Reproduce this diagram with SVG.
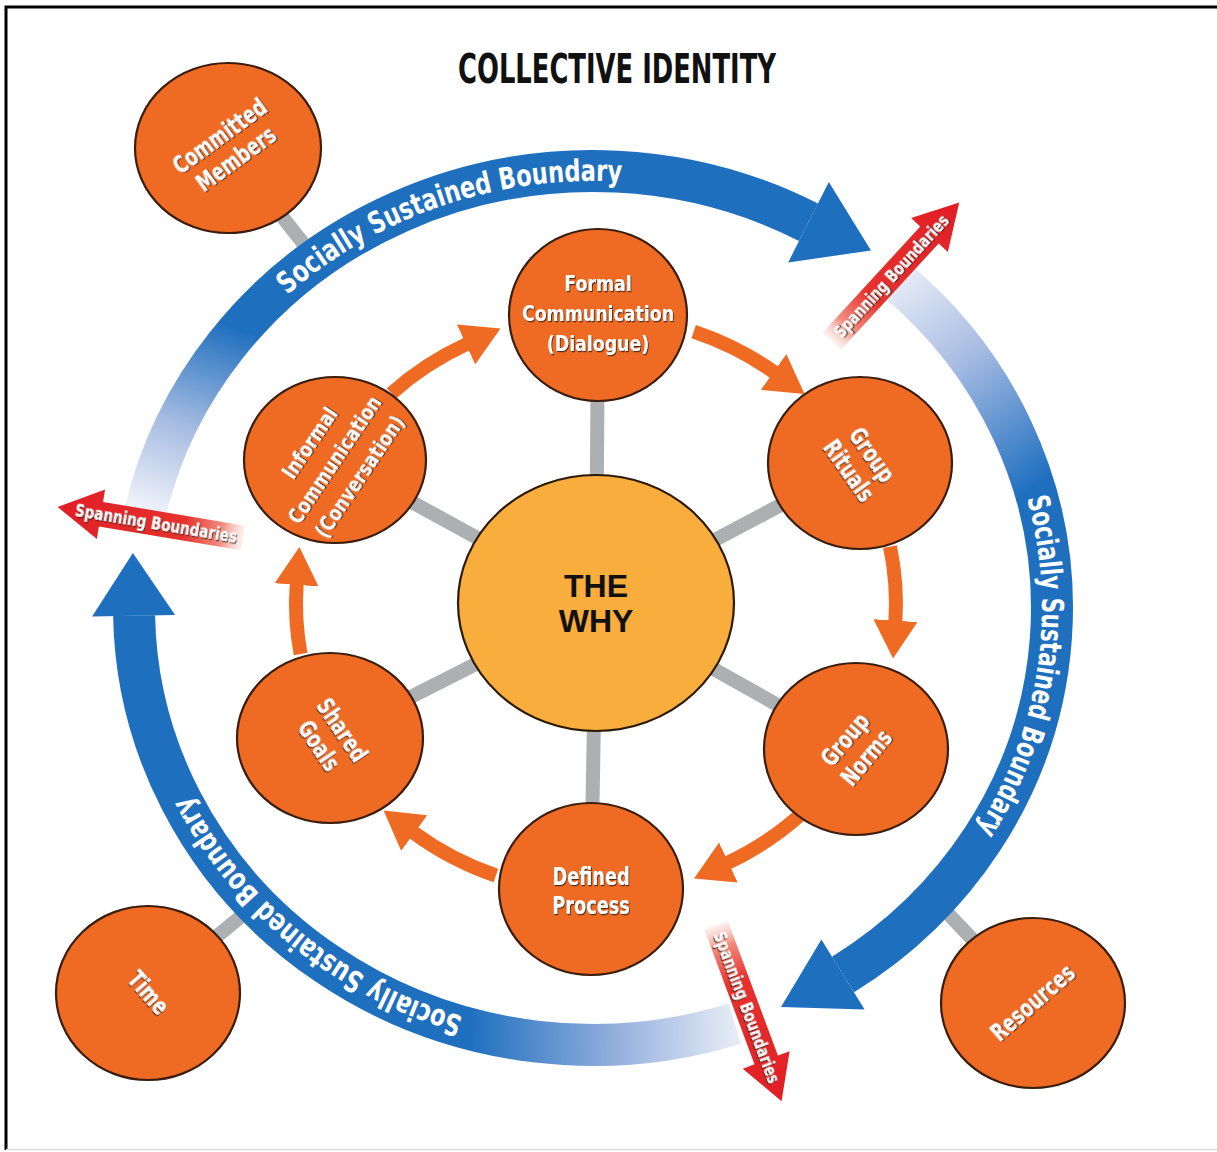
<svg xmlns="http://www.w3.org/2000/svg" width="1217" height="1152" viewBox="0 0 1217 1152">
  <style>
    .node { fill: #ef6b24; stroke: #3a1d0c; stroke-width: 2.2; }
    .core { fill: #f9ad3c; stroke: #2b1a08; stroke-width: 2.2; }
    .lbl { font-family: "Liberation Sans Narrow", "DejaVu Sans Condensed", "Liberation Sans", sans-serif; font-weight: bold; font-size: 24px; fill: #ffffff; text-anchor: middle; filter: url(#shade); }
    .lbl3 { font-size: 21px; }
    .spoke { stroke: #adb0b3; stroke-width: 14; fill: none; }
    .cycle { stroke: #ef6b24; stroke-width: 14; fill: none; marker-end: url(#orangeHead); }
    .ring { stroke-width: 42; fill: none; }
    .ringHead { fill: #1f6fbf; }
    .ringText { font-family: "Liberation Sans Narrow", "DejaVu Sans Condensed", "Liberation Sans", sans-serif; font-weight: bold; font-size: 30px; fill: #ffffff; }
    .spanText { font-family: "Liberation Sans Narrow", "DejaVu Sans Condensed", "Liberation Sans", sans-serif; font-weight: bold; font-size: 17px; fill: #ffffff; text-anchor: middle; filter: url(#shade); }
    .why { font-family: "Liberation Sans", Arial, sans-serif; font-weight: bold; font-size: 32px; fill: #111111; text-anchor: middle; }
  </style>
  <defs>
    <filter id="shade" x="-10%" y="-20%" width="120%" height="150%">
      <feDropShadow dx="1" dy="1.2" stdDeviation="0.6" flood-color="#3b2418" flood-opacity="0.9"/>
    </filter>
    <marker id="orangeHead" markerUnits="userSpaceOnUse" viewBox="0 0 38 44" markerWidth="38" markerHeight="44" refX="1" refY="22" orient="auto">
      <path d="M0,0 L38,22 L0,44 z" fill="#ef6b24"/>
    </marker>
    <linearGradient id="fadeTop" gradientUnits="userSpaceOnUse" x1="146" y1="512" x2="215" y2="320">
      <stop offset="0" stop-color="#f1f4fa"/>
      <stop offset="0.45" stop-color="#a8bde2"/>
      <stop offset="1" stop-color="#1f6fbf"/>
    </linearGradient>
    <linearGradient id="fadeRight" gradientUnits="userSpaceOnUse" x1="900" y1="282" x2="1045" y2="480">
      <stop offset="0" stop-color="#e4eaf5"/>
      <stop offset="0.4" stop-color="#a9bde3"/>
      <stop offset="1" stop-color="#1f6fbf"/>
    </linearGradient>
    <linearGradient id="fadeBottom" gradientUnits="userSpaceOnUse" x1="735" y1="1030" x2="470" y2="1035">
      <stop offset="0" stop-color="#e6ecf6"/>
      <stop offset="0.45" stop-color="#94afdd"/>
      <stop offset="1" stop-color="#1f6fbf"/>
    </linearGradient>
    <linearGradient id="redFade" x1="0" y1="0" x2="1" y2="0">
      <stop offset="0" stop-color="#fbe3dd" stop-opacity="0.5"/>
      <stop offset="0.12" stop-color="#f28a7d"/>
      <stop offset="0.32" stop-color="#e6322d"/>
      <stop offset="1" stop-color="#e11d26"/>
    </linearGradient>
    <polygon id="spanArrow" points="0,-12.5 144,-12.5 144,-25 188,0 144,25 144,12.5 0,12.5" fill="url(#redFade)"/>
    <!-- baselines for the boundary captions -->
    <path id="capTop" d="M171.1,462.0 A449,427 0 0 1 817.5,238.2"/>
    <path id="capRight" d="M926.7,322.3 A449,427 0 0 1 830.9,970.1"/>
    <path id="capBottom" d="M663.2,1029.7 A449,427 0 0 1 144.1,600.5"/>
  </defs>

  <rect width="1217" height="1152" fill="#ffffff"/>
  <!-- frame -->
  <path d="M6,1150 L6,7 L1217,7" fill="none" stroke="#000000" stroke-width="3"/>
  <line x1="6" y1="1149.5" x2="1217" y2="1149.5" stroke="#dcdcdc" stroke-width="1.5"/>

  <text x="617" y="83" text-anchor="middle" font-family="'Liberation Sans Narrow', 'DejaVu Sans Condensed', 'Liberation Sans', sans-serif" font-weight="bold" font-size="40" textLength="318" lengthAdjust="spacingAndGlyphs" fill="#111111">COLLECTIVE IDENTITY</text>

  <!-- connectors -->
  <g id="connectors">
    <g id="spokes">
      <line class="spoke" x1="596" y1="603" x2="598" y2="315"/>
      <line class="spoke" x1="596" y1="603" x2="860" y2="463"/>
      <line class="spoke" x1="596" y1="603" x2="856" y2="749"/>
      <line class="spoke" x1="596" y1="603" x2="591" y2="889"/>
      <line class="spoke" x1="596" y1="603" x2="330" y2="738"/>
      <line class="spoke" x1="596" y1="603" x2="335" y2="460"/>
      <line class="spoke" x1="228" y1="148" x2="318" y2="262"/>
      <line class="spoke" x1="148" y1="993" x2="255" y2="905"/>
      <line class="spoke" x1="1033" y1="1003" x2="935" y2="900"/>
    </g>
    <g id="cycle-arrows">
      <path class="cycle" d="M391.4,393.4 A300,288 0 0 1 466.9,344.0"/>
      <path class="cycle" d="M693.7,331.7 A300,288 0 0 1 774.4,372.5"/>
      <path class="cycle" d="M890.0,546.6 A300,288 0 0 1 895.4,621.6"/>
      <path class="cycle" d="M802.5,812.9 A300,288 0 0 1 727.5,862.9"/>
      <path class="cycle" d="M495.9,875.5 A300,288 0 0 1 413.4,832.5"/>
      <path class="cycle" d="M300.6,654.0 A300,288 0 0 1 296.7,583.9"/>
    </g>
    <g id="boundary-ring">
      <path class="ring" stroke="url(#fadeTop)" d="M144.0,517.1 A459,437 0 0 1 808.5,222.2"/>
      <polygon class="ringHead" points="828.8,182.0 871.0,250.5 788.2,262.4"/>
      <path class="ring" stroke="url(#fadeRight)" d="M894.1,278.2 A459,437 0 0 1 843.0,974.5"/>
      <polygon class="ringHead" points="864.6,1009.4 781.0,1007.0 821.4,939.6"/>
      <path class="ring" stroke="url(#fadeBottom)" d="M734.8,1023.6 A459,437 0 0 1 134.1,615.6"/>
      <polygon class="ringHead" points="92.1,616.4 132.9,553.0 175.1,614.9"/>
      <text class="ringText"><textPath href="#capTop" startOffset="50%" text-anchor="middle" textLength="362" lengthAdjust="spacingAndGlyphs">Socially Sustained Boundary</textPath></text>
      <text class="ringText"><textPath href="#capRight" startOffset="50%" text-anchor="middle" textLength="345" lengthAdjust="spacingAndGlyphs">Socially Sustained Boundary</textPath></text>
      <text class="ringText"><textPath href="#capBottom" startOffset="50%" text-anchor="middle" textLength="362" lengthAdjust="spacingAndGlyphs">Socially Sustained Boundary</textPath></text>
    </g>
    <g id="spanning-arrows">
      <g transform="translate(832 341) rotate(-47.4)">
        <use href="#spanArrow"/>
        <text class="spanText" x="88" y="6" textLength="160" lengthAdjust="spacingAndGlyphs">Spanning Boundaries</text>
      </g>
      <use href="#spanArrow" transform="translate(243 538) rotate(189.5)"/>
      <text class="spanText" transform="translate(156 523.5) rotate(9.5)" x="0" y="6" textLength="164" lengthAdjust="spacingAndGlyphs">Spanning Boundaries</text>
      <g transform="translate(716 925) rotate(69.6)">
        <use href="#spanArrow"/>
        <text class="spanText" x="88" y="6" textLength="160" lengthAdjust="spacingAndGlyphs">Spanning Boundaries</text>
      </g>
    </g>
  </g>

  <!-- central node -->
  <g id="node-why">
    <ellipse class="core" cx="596" cy="603" rx="138" ry="128"/>
    <text class="why" x="596" y="597">THE</text>
    <text class="why" x="596" y="632">WHY</text>
  </g>

  <!-- ring of practices -->
  <g id="node-formal">
    <ellipse class="node" cx="598" cy="315" rx="89" ry="86"/>
    <text class="lbl lbl3" transform="translate(598 314) scale(0.92 1)" x="0" y="-23">Formal</text>
    <text class="lbl lbl3" transform="translate(598 314) scale(0.92 1)" x="0" y="7">Communication</text>
    <text class="lbl lbl3" transform="translate(598 314) scale(0.92 1)" x="0" y="37">(Dialogue)</text>
  </g>
  <g id="node-rituals">
    <ellipse class="node" cx="860" cy="463" rx="92" ry="86"/>
    <text class="lbl" transform="translate(860 463) rotate(55) scale(0.82 1)" x="0" y="-6">Group</text>
    <text class="lbl" transform="translate(860 463) rotate(55) scale(0.82 1)" x="0" y="22">Rituals</text>
  </g>
  <g id="node-norms">
    <ellipse class="node" cx="856" cy="749" rx="92" ry="86"/>
    <text class="lbl" transform="translate(856 749) rotate(-50) scale(0.82 1)" x="0" y="-6">Group</text>
    <text class="lbl" transform="translate(856 749) rotate(-50) scale(0.82 1)" x="0" y="22">Norms</text>
  </g>
  <g id="node-process">
    <ellipse class="node" cx="591" cy="889" rx="92" ry="86"/>
    <text class="lbl" transform="translate(591 889) scale(0.82 1)" x="0" y="-4">Defined</text>
    <text class="lbl" transform="translate(591 889) scale(0.82 1)" x="0" y="25">Process</text>
  </g>
  <g id="node-goals">
    <ellipse class="node" cx="330" cy="738" rx="93" ry="85"/>
    <text class="lbl" transform="translate(330 738) rotate(56) scale(0.82 1)" x="0" y="-6">Shared</text>
    <text class="lbl" transform="translate(330 738) rotate(56) scale(0.82 1)" x="0" y="22">Goals</text>
  </g>
  <g id="node-informal">
    <ellipse class="node" cx="335" cy="460" rx="91" ry="83"/>
    <text class="lbl lbl3" transform="translate(335 460) rotate(-56) scale(0.9 1)" x="0" y="-23">Informal</text>
    <text class="lbl lbl3" transform="translate(335 460) rotate(-56) scale(0.9 1)" x="0" y="7">Communication</text>
    <text class="lbl lbl3" transform="translate(335 460) rotate(-56) scale(0.9 1)" x="0" y="37">(Conversation)</text>
  </g>

  <!-- outer resources -->
  <g id="node-members">
    <ellipse class="node" cx="228" cy="148" rx="93" ry="85"/>
    <text class="lbl" transform="translate(228 148) rotate(-36) scale(0.82 1)" x="0" y="-6">Committed</text>
    <text class="lbl" transform="translate(228 148) rotate(-36) scale(0.82 1)" x="0" y="22">Members</text>
  </g>
  <g id="node-time">
    <ellipse class="node" cx="148" cy="993" rx="92" ry="87"/>
    <text class="lbl" transform="translate(148 993) rotate(49) scale(0.82 1)" x="0" y="8">Time</text>
  </g>
  <g id="node-resources">
    <ellipse class="node" cx="1033" cy="1003" rx="92" ry="85"/>
    <text class="lbl" font-size="22" transform="translate(1033 1003) rotate(-41) scale(0.82 1)" x="0" y="8">Resources</text>
  </g>
</svg>
